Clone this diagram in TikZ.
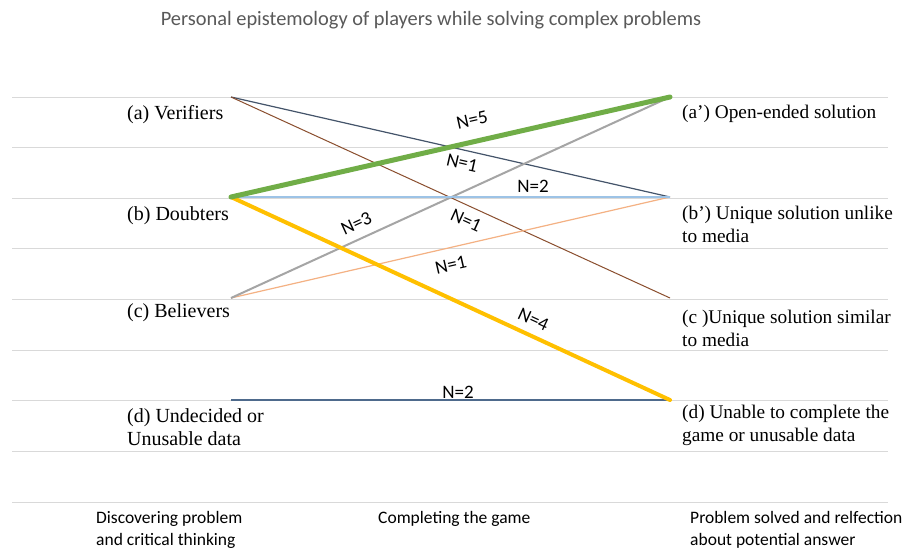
\documentclass[tikz,border=0pt]{standalone}
\usepackage{fontspec}
\setmainfont{Liberation Serif}
\newfontfamily\calibri{Carlito}

\definecolor{gridgray}{HTML}{D9D9D9}
\definecolor{titlegray}{HTML}{595959}
\definecolor{navyline}{HTML}{44546A}
\definecolor{brownline}{HTML}{8A4E2E}
\definecolor{greenline}{HTML}{70AD47}
\definecolor{paleblue}{HTML}{9DC3E6}
\definecolor{goldline}{HTML}{FFC000}
\definecolor{grayline}{HTML}{A5A5A5}
\definecolor{peachline}{HTML}{F4B183}
\definecolor{slateline}{HTML}{4E6A8C}

\tikzset{
  gridline/.style={gridgray, line width=1pt},
  group/.style={anchor=north west, inner sep=0pt, align=left,
    font=\fontsize{20}{23}\selectfont},
  outcome/.style={group, font=\fontsize{19.3}{23}\selectfont},
  phase/.style={anchor=north west, inner sep=0pt, align=left,
    font=\calibri\fontsize{17.5}{22}\selectfont},
  count/.style={font=\calibri\fontsize{19}{22}\selectfont, text=black, sloped, inner sep=0pt},
}

\begin{document}
\begin{tikzpicture}[x=1pt, y=-1pt, >=latex]
  \fill [white] (0,0) rectangle (909,550);
  \useasboundingbox (0,0) rectangle (909,550);

  % background rules
  \foreach \i in {0,...,8}
    \draw [gridline] (12,97+50.625*\i) -- (888,97+50.625*\i);

  \node (title) at (431,20) [font=\calibri\fontsize{20.4}{23}\selectfont, text=titlegray] {Personal epistemology of players while solving complex problems};

  % end points of the groups
  \coordinate (a) at (231,97);
  \coordinate (b) at (231,197);
  \coordinate (c) at (231,298);
  \coordinate (d) at (231,400);
  \coordinate (ap) at (670,97);
  \coordinate (bp) at (670,197);
  \coordinate (cp) at (670,298);
  \coordinate (dp) at (670,400);

  % left column
  \node (verif) at (127,105) [group] {(a) Verifiers};
  \node (doubt) at (127,206) [group] {(b) Doubters};
  \node (believ) at (127,303) [group] {(c) Believers};
  \node (undec) at (127,408) [group] {(d) Undecided or\\Unusable data};

  % right column
  \node (openend) at (682,105) [outcome] {(a’) Open-ended solution};
  \node (unlike) at (682,206) [outcome] {(b’) Unique solution unlike\\to media};
  \node (similar) at (682,310) [outcome] {(c )Unique solution similar\\to media};
  \node (unable) at (682,405) [outcome] {(d) Unable to complete the\\game or unusable data};

  % flows
  \draw [navyline, line width=1.2pt] (a) -- (bp) node [count, pos=.533, below=6pt] {N=1};
  \draw [brownline, line width=1pt] (a) -- (cp) node [count, pos=.549, below=7.5pt] {N=1};
  \draw [peachline, line width=1.2pt] (c) -- (bp) node [count, pos=.492, below=10pt] {N=1};
  \draw [grayline, line width=2pt] (c) -- (ap) node [count, pos=.30, above=8pt] {N=3};
  \draw [paleblue, line width=2pt] (b) -- (bp) node [count, pos=.688, above=4pt] {N=2};
  \draw [slateline, line width=2.6pt] (d) -- (dp) node [count, pos=.517, above=0pt] {N=2};
  \draw [goldline, line width=4pt, line cap=round] (b) -- (dp) node [count, pos=.674, above=7.5pt] {N=4};
  \draw [greenline, line width=5pt, line cap=round] (b) -- (ap) node [count, pos=.56, above=13pt] {N=5};

  % bottom phases
  \node (discover) at (96,511) [phase] {Discovering problem\\and critical thinking};
  \node (complete) at (378,511) [phase] {Completing the game};
  \node (solved) at (690,511) [phase] {Problem solved and relfection\\about potential answer};
\end{tikzpicture}
\end{document}
